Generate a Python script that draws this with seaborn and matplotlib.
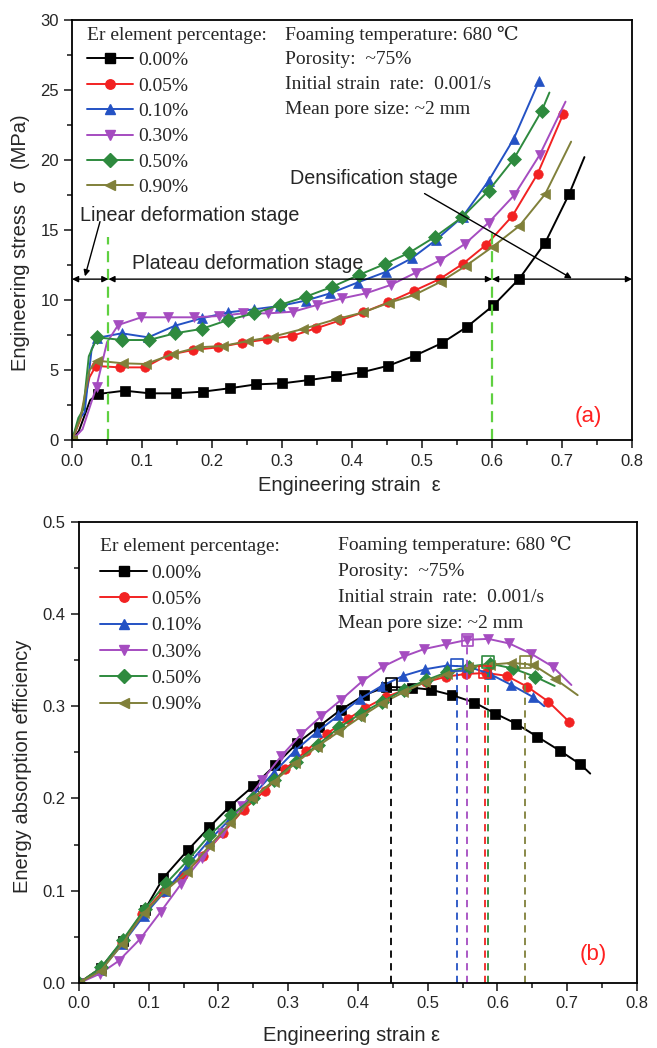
import matplotlib
matplotlib.use('Agg')
import matplotlib.pyplot as plt
from matplotlib.lines import Line2D
from matplotlib.font_manager import FontProperties
from matplotlib.ticker import MultipleLocator, FormatStrFormatter
import seaborn as sns

# ---- data ----
er_labels = ['0.00%', '0.05%', '0.10%', '0.30%', '0.50%', '0.90%']
colors = ['#000000', '#f22222', '#2452c4', '#a54cc0', '#2e8a3e', '#80803a']
markers = ['s', 'o', '^', 'v', 'D', '<']

# (a) stress-strain curves
strain_a = [
    [0, 0.010, 0.026, 0.037, 0.075, 0.111, 0.149, 0.187, 0.225, 0.263, 0.300, 0.339, 0.377, 0.414, 0.452, 0.490, 0.528, 0.564, 0.602, 0.639, 0.676, 0.710, 0.732],
    [0, 0.012, 0.025, 0.034, 0.0685, 0.104, 0.137, 0.173, 0.209, 0.2435, 0.279, 0.314, 0.349, 0.383, 0.416, 0.452, 0.489, 0.525, 0.558, 0.592, 0.629, 0.665, 0.702],
    [0, 0.010, 0.018, 0.028, 0.035, 0.071, 0.109, 0.147, 0.185, 0.223, 0.260, 0.297, 0.334, 0.369, 0.408, 0.449, 0.485, 0.520, 0.558, 0.595, 0.631, 0.667],
    [0, 0.015, 0.035, 0.050, 0.066, 0.099, 0.137, 0.174, 0.210, 0.244, 0.280, 0.316, 0.350, 0.386, 0.420, 0.455, 0.491, 0.525, 0.561, 0.595, 0.632, 0.668, 0.705],
    [0, 0.009, 0.016, 0.024, 0.036, 0.072, 0.110, 0.147, 0.185, 0.223, 0.260, 0.297, 0.334, 0.372, 0.410, 0.447, 0.482, 0.519, 0.557, 0.595, 0.631, 0.671, 0.682],
    [0, 0.012, 0.025, 0.035, 0.073, 0.1055, 0.1445, 0.180, 0.216, 0.2515, 0.287, 0.330, 0.377, 0.416, 0.453, 0.489, 0.527, 0.563, 0.601, 0.639, 0.676, 0.713],
]
stress_a = [
    [0, 0.7, 2.88, 3.31, 3.55, 3.36, 3.36, 3.48, 3.72, 4.0, 4.07, 4.31, 4.58, 4.86, 5.33, 6.05, 6.93, 8.09, 9.63, 11.53, 14.1, 17.55, 20.2],
    [0, 1.5, 4.5, 5.31, 5.21, 5.21, 6.09, 6.45, 6.64, 6.97, 7.21, 7.45, 8.0, 8.56, 9.13, 9.85, 10.68, 11.5, 12.58, 13.96, 16.0, 19.0, 23.3],
    [0, 1.5, 2.0, 6.5, 7.3, 7.64, 7.35, 8.18, 8.71, 9.13, 9.35, 9.59, 9.97, 10.49, 11.26, 12.03, 12.98, 14.29, 15.95, 18.5, 21.5, 25.6],
    [0, 0.8, 3.84, 7.0, 8.23, 8.78, 8.78, 8.78, 8.87, 9.06, 9.06, 9.18, 9.66, 10.13, 10.49, 11.08, 11.96, 12.82, 14.0, 15.52, 17.5, 20.35, 24.15],
    [0, 1.6, 2.2, 6.0, 7.35, 7.16, 7.16, 7.64, 7.95, 8.59, 9.06, 9.66, 10.25, 10.96, 11.8, 12.58, 13.39, 14.53, 15.9, 17.8, 20.06, 23.5, 24.8],
    [0, 1.6, 5.0, 5.69, 5.50, 5.45, 6.17, 6.64, 6.74, 7.09, 7.40, 7.95, 8.64, 9.13, 9.82, 10.37, 11.32, 12.46, 13.81, 15.29, 17.57, 21.3],
]
# points drawn as line only (no symbol)
plain_a = [[1, 2, -1], [1, 2], [1, 2, 3], [1, 3, -1], [1, 2, 3, -1], [1, 2, -1]]

stage_bounds = [0.052, 0.6]
stage_tops = [14.5, 14.8]

# (b) energy absorption efficiency
strain_b = [
    [0, 0.031, 0.063, 0.094, 0.121, 0.156, 0.187, 0.217, 0.250, 0.281, 0.313, 0.344, 0.375, 0.409, 0.440, 0.478, 0.504, 0.535, 0.567, 0.597, 0.627, 0.657, 0.689, 0.719, 0.733],
    [0, 0.031, 0.062, 0.091, 0.120, 0.149, 0.178, 0.207, 0.236, 0.266, 0.296, 0.326, 0.355, 0.385, 0.410, 0.440, 0.468, 0.497, 0.526, 0.555, 0.584, 0.613, 0.643, 0.673, 0.703],
    [0, 0.031, 0.062, 0.093, 0.124, 0.155, 0.186, 0.217, 0.248, 0.279, 0.310, 0.341, 0.372, 0.403, 0.434, 0.465, 0.496, 0.527, 0.558, 0.589, 0.620, 0.651, 0.667],
    [0, 0.030, 0.057, 0.088, 0.117, 0.146, 0.176, 0.205, 0.234, 0.263, 0.290, 0.319, 0.347, 0.376, 0.406, 0.436, 0.466, 0.495, 0.526, 0.557, 0.587, 0.617, 0.648, 0.679, 0.706],
    [0, 0.032, 0.063, 0.094, 0.125, 0.156, 0.187, 0.218, 0.249, 0.280, 0.311, 0.342, 0.373, 0.404, 0.435, 0.466, 0.497, 0.528, 0.559, 0.590, 0.622, 0.654, 0.682],
    [0, 0.031, 0.062, 0.093, 0.124, 0.155, 0.186, 0.217, 0.248, 0.279, 0.310, 0.341, 0.372, 0.403, 0.434, 0.465, 0.496, 0.527, 0.558, 0.589, 0.620, 0.651, 0.682, 0.715],
]
eff_b = [
    [0, 0.016, 0.046, 0.079, 0.114, 0.144, 0.169, 0.192, 0.2135, 0.236, 0.260, 0.278, 0.296, 0.312, 0.321, 0.320, 0.318, 0.312, 0.304, 0.292, 0.281, 0.267, 0.252, 0.237, 0.227],
    [0, 0.016, 0.044, 0.075, 0.099, 0.117, 0.138, 0.163, 0.188, 0.208, 0.232, 0.252, 0.270, 0.286, 0.298, 0.310, 0.318, 0.326, 0.332, 0.335, 0.336, 0.333, 0.321, 0.305, 0.283],
    [0, 0.014, 0.042, 0.073, 0.100, 0.127, 0.154, 0.178, 0.202, 0.228, 0.252, 0.272, 0.290, 0.308, 0.322, 0.333, 0.340, 0.344, 0.343, 0.335, 0.323, 0.310, 0.300],
    [0, 0.010, 0.024, 0.048, 0.077, 0.107, 0.135, 0.163, 0.192, 0.220, 0.246, 0.270, 0.289, 0.307, 0.327, 0.343, 0.354, 0.362, 0.367, 0.372, 0.373, 0.368, 0.357, 0.343, 0.323],
    [0, 0.017, 0.047, 0.080, 0.108, 0.133, 0.160, 0.182, 0.200, 0.220, 0.240, 0.258, 0.277, 0.292, 0.305, 0.318, 0.328, 0.337, 0.343, 0.346, 0.341, 0.332, 0.322],
    [0, 0.013, 0.042, 0.076, 0.100, 0.120, 0.148, 0.173, 0.200, 0.218, 0.238, 0.256, 0.272, 0.288, 0.303, 0.315, 0.326, 0.335, 0.342, 0.345, 0.347, 0.345, 0.330, 0.312],
]
plain_b = [[-1], [], [-1], [-1], [-1], [-1]]

peak_strain = [0.448, 0.582, 0.542, 0.557, 0.586, 0.640]
peak_eff = [0.324, 0.337, 0.345, 0.372, 0.348, 0.348]

conditions = ['Foaming temperature: 680 \u2103', 'Porosity:  ~75%',
              'Initial strain  rate:  0.001/s', 'Mean pore size: ~2 mm']

# ---- style ----
sns.set_style('ticks')
plt.rcParams['font.family'] = ['Liberation Sans', 'DejaVu Sans']
plt.rcParams['axes.linewidth'] = 1.3
plt.rcParams['axes.edgecolor'] = 'black'
serif = FontProperties(family=['Liberation Serif', 'DejaVu Serif', 'DejaVu Sans'], size=14)

fig = plt.figure(figsize=(6.57, 10.48), dpi=100)
ax1 = fig.add_axes([0.1096, 0.5797, 0.8524, 0.4016])
ax2 = fig.add_axes([0.1202, 0.0620, 0.8493, 0.4402])


def draw_curves(ax, xs, ys, plain):
    for x, y, c, m, skip in zip(xs, ys, colors, markers, plain):
        skip = [i % len(x) for i in skip]
        keep = [i for i in range(len(x)) if i not in skip]
        sns.lineplot(x=x, y=y, ax=ax, color=c, lw=1.4, sort=False, estimator=None,
                     marker=m, markevery=keep, markersize=6.8, markeredgecolor=c,
                     markeredgewidth=0.5, legend=False)


def style_axes(ax, ymax, ymajor, yminor, fmt):
    ax.set_xlim(0, 0.8)
    ax.set_ylim(0, ymax)
    ax.xaxis.set_major_locator(MultipleLocator(0.1))
    ax.xaxis.set_minor_locator(MultipleLocator(0.05))
    ax.yaxis.set_major_locator(MultipleLocator(ymajor))
    ax.yaxis.set_minor_locator(MultipleLocator(yminor))
    ax.xaxis.set_major_formatter(FormatStrFormatter('%.1f'))
    ax.yaxis.set_major_formatter(FormatStrFormatter(fmt))
    ax.tick_params(which='major', length=6, width=1.2, labelsize=12, direction='out')
    ax.tick_params(which='minor', length=3.5, width=1.2, direction='out')
    for s in ax.spines.values():
        s.set_visible(True)
        s.set_linewidth(1.3)


def add_legend(ax, anchor, spacing):
    handles = [Line2D([], [], color=c, marker=m, markersize=6.8, lw=1.4, markeredgecolor=c)
               for c, m in zip(colors, markers)]
    ax.legend(handles=handles, labels=er_labels, title='Er element percentage:',
              loc='upper left', bbox_to_anchor=anchor, frameon=False, prop=serif,
              title_fontproperties=serif, alignment='left', handlelength=2.4,
              handletextpad=0.25, labelspacing=spacing, borderpad=0, borderaxespad=0)


def add_conditions(ax, x0, y0, dy):
    for i, t in enumerate(conditions):
        ax.text(x0, y0 - i * dy, t, transform=ax.transAxes, fontproperties=serif, va='center')


# ---- (a) ----
draw_curves(ax1, strain_a, stress_a, plain_a)
style_axes(ax1, 30, 5, 2.5, '%d')
for xb, yt in zip(stage_bounds, stage_tops):
    ax1.plot([xb, xb], [0, yt], color='#5fd040', lw=1.6, ls=(0, (5, 3)))

bounds = [0] + stage_bounds + [0.8]
for a, b in zip(bounds[:-1], bounds[1:]):
    ax1.annotate('', xy=(b, 11.5), xytext=(a, 11.5),
                 arrowprops=dict(arrowstyle='<|-|>', color='black', lw=1.0,
                                 mutation_scale=9, shrinkA=0, shrinkB=0))
ax1.annotate('', xy=(0.0185, 11.7), xytext=(0.040, 15.6),
             arrowprops=dict(arrowstyle='-|>', color='black', lw=1.0, mutation_scale=9,
                             shrinkA=0, shrinkB=0))
ax1.annotate('', xy=(0.714, 11.55), xytext=(0.5036, 17.6),
             arrowprops=dict(arrowstyle='-|>', color='black', lw=1.0, mutation_scale=9,
                             shrinkA=0, shrinkB=0))
ax1.text(0.011, 16.07, 'Linear deformation stage', fontsize=14.2, va='center')
ax1.text(0.0856, 12.65, 'Plateau deformation stage', fontsize=14.2, va='center')
ax1.text(0.311, 18.7, 'Densification stage', fontsize=14.2, va='center')
ax1.text(0.922, 0.056, '(a)', transform=ax1.transAxes, color='#ff2020', fontsize=16,
         ha='center', va='center')

add_legend(ax1, (0.026, 0.983), 0.40)
add_conditions(ax1, 0.380, 0.964, 0.0595)
ax1.set_xlabel('Engineering strain  \u03b5', fontsize=14.5)
ax1.set_ylabel('Engineering stress  \u03c3  (MPa)', fontsize=14.5)
ax1.xaxis.set_label_coords(0.496, -0.084)
ax1.yaxis.set_label_coords(-0.075, 0.47)

# ---- (b) ----
draw_curves(ax2, strain_b, eff_b, plain_b)
style_axes(ax2, 0.5, 0.1, 0.05, '%.1f')
for px, py, c in zip(peak_strain, peak_eff, colors):
    ax2.plot([px, px], [0, py], color=c, lw=1.3, ls=(0, (4, 3)))
sns.scatterplot(x=peak_strain, y=peak_eff, ax=ax2, marker='s', s=70, facecolor='none',
                edgecolor=colors, linewidth=1.2, legend=False, zorder=5)
ax2.text(0.922, 0.062, '(b)', transform=ax2.transAxes, color='#ff2020', fontsize=16,
         ha='center', va='center')

add_legend(ax2, (0.038, 0.964), 0.45)
add_conditions(ax2, 0.464, 0.949, 0.0565)
ax2.set_xlabel('Engineering strain \u03b5', fontsize=14.5)
ax2.set_ylabel('Energy absorption efficiency', fontsize=14.5)
ax2.xaxis.set_label_coords(0.489, -0.093)
ax2.yaxis.set_label_coords(-0.084, 0.47)

fig.savefig('out.png', dpi=100)
